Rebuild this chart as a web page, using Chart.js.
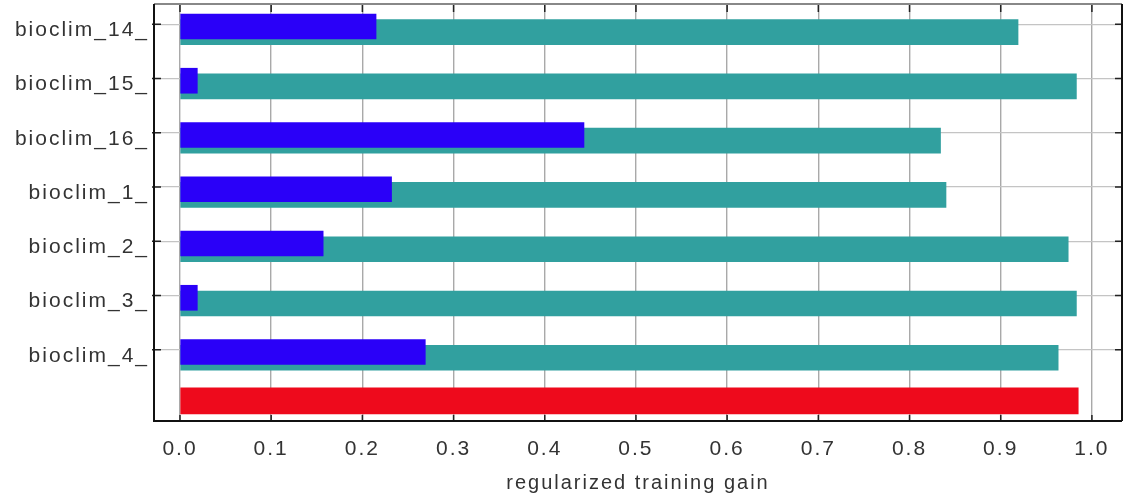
<!DOCTYPE html>
<html>
<head>
<meta charset="utf-8">
<script src="https://cdn.jsdelivr.net/npm/chart.js@4/dist/chart.umd.min.js"></script>
<style>
  html, body { margin: 0; padding: 0; background: #ffffff; }
  canvas { display: block; }
</style>
</head>
<body>
<canvas id="gain" width="1125" height="501"></canvas>
<script>
// Jackknife of regularized training gain per bioclimatic variable
const VARIABLES = ['bioclim_14_', 'bioclim_15_', 'bioclim_16_', 'bioclim_1_', 'bioclim_2_', 'bioclim_3_', 'bioclim_4_'];
const WITH_ONLY = [0.215, 0.019, 0.443, 0.232, 0.157, 0.019, 0.269];
const WITHOUT   = [0.919, 0.983, 0.834, 0.840, 0.974, 0.983, 0.963];
const ALL_VARIABLES = 0.985;
const X_TICKS = [0.0, 0.1, 0.2, 0.3, 0.4, 0.5, 0.6, 0.7, 0.8, 0.9, 1.0];

// row placement of each series relative to its category line
const ONLY_SHIFT = 0.04;
const WITHOUT_SHIFT = 0.145;
const ALL_SHIFT = -0.06;

const FONT = "'Liberation Sans', Arial, sans-serif";
const TEXT = '#333333';

const spacing = {
  id: 'spacing',
  beforeDraw(chart) { chart.ctx.letterSpacing = '2px'; }
};

// plot frame with inward tick marks
const frame = {
  id: 'frame',
  afterDraw(chart) {
    const {ctx, chartArea: a, scales: {x, y}} = chart;
    ctx.save();
    ctx.lineCap = 'butt';
    ctx.strokeStyle = '#222222';
    ctx.lineWidth = 1.5;
    X_TICKS.forEach(v => {
      const px = x.getPixelForValue(v);
      ctx.beginPath();
      ctx.moveTo(px, a.bottom); ctx.lineTo(px, a.bottom - 6);
      ctx.moveTo(px, a.top); ctx.lineTo(px, a.top + 8);
      ctx.stroke();
    });
    VARIABLES.forEach((_, i) => {
      const py = y.getPixelForValue(i);
      ctx.beginPath();
      ctx.moveTo(a.left - 2, py); ctx.lineTo(a.left + 7, py);
      ctx.moveTo(a.right - 7, py); ctx.lineTo(a.right, py);
      ctx.stroke();
    });
    ctx.lineWidth = 2;
    ctx.strokeStyle = '#888888';
    ctx.beginPath();
    ctx.moveTo(a.left, a.top); ctx.lineTo(a.right, a.top);
    ctx.stroke();
    ctx.strokeStyle = '#111111';
    ctx.beginPath();
    ctx.moveTo(a.right, a.top); ctx.lineTo(a.right, a.bottom);
    ctx.moveTo(a.left, a.top); ctx.lineTo(a.left, a.bottom);
    ctx.lineTo(a.right, a.bottom);
    ctx.stroke();
    ctx.restore();
  }
};

new Chart(document.getElementById('gain'), {
  type: 'bar',
  data: {
    datasets: [
      {
        label: 'With only variable',
        data: WITH_ONLY.map((v, i) => ({x: v, y: i + ONLY_SHIFT})),
        backgroundColor: '#2a00f8',
        barThickness: 25,
        grouped: false
      },
      {
        label: 'Without variable',
        data: WITHOUT.map((v, i) => ({x: v, y: i + WITHOUT_SHIFT})),
        backgroundColor: '#31a09f',
        barThickness: 25,
        grouped: false
      },
      {
        label: 'With all variables',
        data: [{x: ALL_VARIABLES, y: VARIABLES.length + ALL_SHIFT}],
        backgroundColor: '#ee0a1c',
        barThickness: 26,
        grouped: false
      }
    ]
  },
  plugins: [spacing, frame],
  options: {
    indexAxis: 'y',
    responsive: false,
    animation: false,
    layout: { padding: { top: 4, right: 3, left: 0, bottom: 0 } },
    plugins: { legend: { display: false }, tooltip: { enabled: false } },
    scales: {
      x: {
        type: 'linear',
        position: 'bottom',
        min: -0.0285,
        max: 1.033,
        offset: false,
        afterBuildTicks(scale) { scale.ticks = X_TICKS.map(v => ({value: v})); },
        afterFit(scale) { scale.height = 80; scale.paddingLeft = 0; scale.paddingRight = 0; },
        ticks: {
          callback: v => v.toFixed(1),
          font: { family: FONT, size: 21 },
          color: TEXT,
          padding: 16,
          maxRotation: 0,
          autoSkip: false
        },
        grid: { color: '#a9a9a9', lineWidth: 1.4, drawTicks: false, offset: false },
        border: { display: false },
        title: {
          display: true,
          text: 'regularized training gain',
          font: { family: FONT, size: 20 },
          color: TEXT,
          padding: { top: 0, bottom: 6 }
        }
      },
      y: {
        type: 'linear',
        reverse: true,
        min: -0.374,
        max: 7.311,
        offset: false,
        afterBuildTicks(scale) { scale.ticks = VARIABLES.map((_, i) => ({value: i})); },
        afterFit(scale) { scale.width = 154; scale.paddingTop = 0; scale.paddingBottom = 0; },
        ticks: {
          callback: v => VARIABLES[v],
          font: { family: FONT, size: 21 },
          color: TEXT,
          padding: 5,
          labelOffset: 6,
          autoSkip: false
        },
        grid: { color: '#c4c4c4', lineWidth: 1.2, drawTicks: false, offset: false },
        border: { display: false }
      }
    }
  }
});
</script>
</body>
</html>
